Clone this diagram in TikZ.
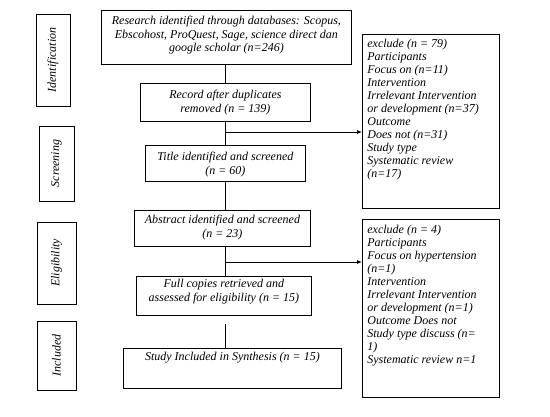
\documentclass[tikz,border=0pt]{standalone}
\usepackage{fontspec}
\setmainfont{Liberation Serif}
\usetikzlibrary{arrows.meta}
\tikzset{
  frame/.style={draw, line width=0.8pt, inner sep=0pt, anchor=north west,
    font=\fontsize{12}{13.5}\selectfont\itshape},
  exbox/.style={draw, line width=0.8pt, inner sep=0pt, anchor=north west,
    font=\fontsize{12}{13}\selectfont\itshape},
  side/.style={draw, line width=0.8pt, inner sep=0pt, rotate=90,
    font=\fontsize{12}{13}\selectfont\itshape},
  conn/.style={line width=0.8pt},
  arr/.style={line width=0.8pt, -{Latex[length=5pt,width=4pt]}}
}
\newcommand{\cbox}[4]{\parbox[c][#2pt][t]{#1pt}{\vspace*{#3pt}\centering #4\par}}
\newcommand{\lbox}[4]{\parbox[c][#2pt][t]{#1pt}{\vspace*{#3pt}\raggedright\leftskip=5pt #4\par}}
\begin{document}
\begin{tikzpicture}[x=1pt,y=-1pt]
\useasboundingbox (0,0) rectangle (550,417);
% side labels
\node[side, minimum width=92pt, minimum height=34pt] (s1) at (53,60) {Identification};
\node[side, minimum width=75pt, minimum height=35pt] (s2) at (56.5,163.5) {Screening};
\node[side, minimum width=82pt, minimum height=39pt] (s3) at (56.5,263) {Eligibility};
\node[side, minimum width=69pt, minimum height=39pt] (s4) at (56.5,355.5) {Included};
% main boxes
\node[frame] (b1) at (101,10) {\cbox{250}{54}{6}{Research identified through databases: Scopus,\\ Ebscohost, ProQuest, Sage, science direct dan\\ google scholar (n=246)}};
\node[frame] (b2) at (140,83) {\cbox{170}{38}{7}{Record after duplicates\\ removed (n = 139)}};
\node[frame] (b3) at (145,145) {\cbox{160}{36}{7}{Title identified and screened\\ (n = 60)}};
\node[frame] (b4) at (134,210) {\cbox{176}{36}{5}{Abstract identified and screened\\ (n = 23)}};
\node[frame] (b5) at (136,276) {\cbox{175}{39}{3}{Full copies retrieved and\\ assessed for eligibility (n = 15)}};
\node[frame] (b6) at (123,348) {\cbox{218}{40}{4}{Study Included in Synthesis (n = 15)}};
% exclusion boxes
\node[exbox] (e1) at (362,34) {\lbox{137}{174}{5}{exclude (n = 79)\\ Participants\\ Focus on (n=11)\\ Intervention\\ Irrelevant Intervention\\ or development (n=37)\\ Outcome\\ Does not (n=31)\\ Study type\\ Systematic review\\ (n=17)}};
\node[exbox] (e2) at (362,219) {\lbox{137}{178}{6}{exclude (n = 4)\\ Participants\\ Focus on hypertension\\ (n=1)\\ Intervention\\ Irrelevant Intervention\\ or development (n=1)\\ Outcome Does not\\ Study type discuss (n=\\ 1)\\ Systematic review n=1}};
% connectors
\coordinate (sp) at (225,0);
\draw[conn] (b1.south -| sp) -- (b2.north -| sp);
\draw[conn] (b2.south -| sp) -- (b3.north -| sp);
\draw[conn] (b3.south -| sp) -- (b4.north -| sp);
\draw[conn] (b4.south -| sp) -- (b5.north -| sp);
\draw[conn, shorten <=8pt] (b5.south -| sp) -- (b6.north -| sp);
\coordinate (j1) at (225,132);
\coordinate (j2) at (225,262);
\draw[arr] (j1) -- (j1 -| e1.west);
\draw[arr] (j2) -- (j2 -| e2.west);
\end{tikzpicture}
\end{document}
